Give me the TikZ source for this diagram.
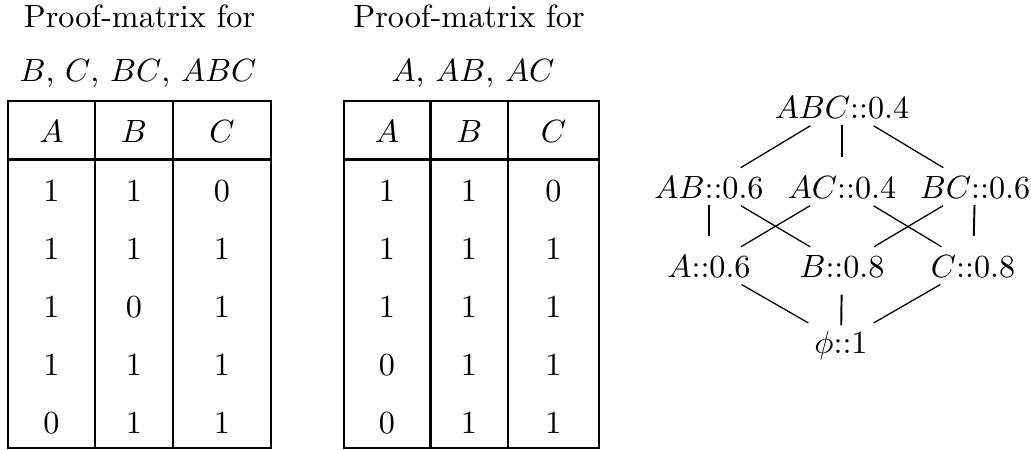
\documentclass[tikz,border=0pt]{standalone}
\begin{document}
\begin{tikzpicture}[x=0.311pt,y=-0.311pt,
  cell/.style={anchor=base,inner sep=0pt},
  captxt/.style={anchor=base,inner sep=0pt},
  lat/.style={anchor=base,inner sep=0pt,text height=7pt,text depth=0pt},
  tabrule/.style={line width=0.65pt},
  dg/.style={line width=0.4pt,shorten <=4.3pt,shorten >=4.3pt},
  vt/.style={line width=0.6pt}]
\useasboundingbox (0,0) rectangle (1031,450);

% ---- Table 1 ----
\node[captxt] (cap1a) at (139.5,27.5) {Proof-matrix for};
\node[captxt] (cap1b) at (138,81.3) {$B$, $C$, $BC$, $ABC$};
\draw[tabrule] (8,101) rectangle (271,448);
\draw[tabrule] (8,159.5) -- (271,159.5);
\draw[tabrule] (95,101) -- (95,448);
\draw[tabrule] (172.7,101) -- (172.7,448);
\node[cell] (t1hA) at (51.5,142) {$A$};
\node[cell] (t1hB) at (134,142) {$B$};
\node[cell] (t1hC) at (222,142) {$C$};
\foreach \a/\b/\c [count=\i from 0] in {1/1/0,1/1/1,1/0/1,1/1/1,0/1/1}{
  \node[cell] (t1r\i a) at (51.5,201.5+58*\i) {\a};
  \node[cell] (t1r\i b) at (134,201.5+58*\i) {\b};
  \node[cell] (t1r\i c) at (222,201.5+58*\i) {\c};
}

% ---- Table 2 ----
\node[captxt] (cap2a) at (469,27.5) {Proof-matrix for};
\node[captxt] (cap2b) at (473,81.3) {$A$, $AB$, $AC$};
\draw[tabrule] (344,101) rectangle (599,448);
\draw[tabrule] (344,159.5) -- (599,159.5);
\draw[tabrule] (430.5,101) -- (430.5,448);
\draw[tabrule] (508,101) -- (508,448);
\node[cell] (t2hA) at (387,142) {$A$};
\node[cell] (t2hB) at (469,142) {$B$};
\node[cell] (t2hC) at (553.5,142) {$C$};
\foreach \a/\b/\c [count=\i from 0] in {1/1/0,1/1/1,1/1/1,0/1/1,0/1/1}{
  \node[cell] (t2r\i a) at (387,201.5+58*\i) {\a};
  \node[cell] (t2r\i b) at (469,201.5+58*\i) {\b};
  \node[cell] (t2r\i c) at (553.5,201.5+58*\i) {\c};
}

% ---- Lattice ----
\node[lat] (ABC) at (842,118) {$ABC$::0.4};
\node[lat] (AB) at (709,198) {$AB$::0.6};
\node[lat] (AC) at (842,198) {$AC$::0.4};
\node[lat] (BC) at (975,198) {$BC$::0.6};
\node[lat] (A) at (709,277) {$A$::0.6};
\node[lat] (B) at (842,277) {$B$::0.8};
\node[lat] (C) at (973,277) {$C$::0.8};
\node[lat] (phi) at (841,353) {$\phi$::1};

\draw[dg] (ABC) -- (AB);
\draw[dg] (ABC) -- (BC);
\draw[vt,shorten <=2pt,shorten >=5.6pt] (ABC) -- (AC);
\draw[dg] (AB) -- (B);
\draw[dg] (AC) -- (A);
\draw[dg] (AC) -- (C);
\draw[dg] (BC) -- (B);
\draw[vt,shorten <=2pt,shorten >=5.6pt] (AB) -- (A);
\draw[vt,shorten <=2pt,shorten >=5.6pt] (BC) -- (C);
\draw[dg] (A) -- (phi);
\draw[dg] (C) -- (phi);
\draw[vt,shorten <=5.3pt,shorten >=1.4pt] (B) -- (phi);
\end{tikzpicture}
\end{document}
